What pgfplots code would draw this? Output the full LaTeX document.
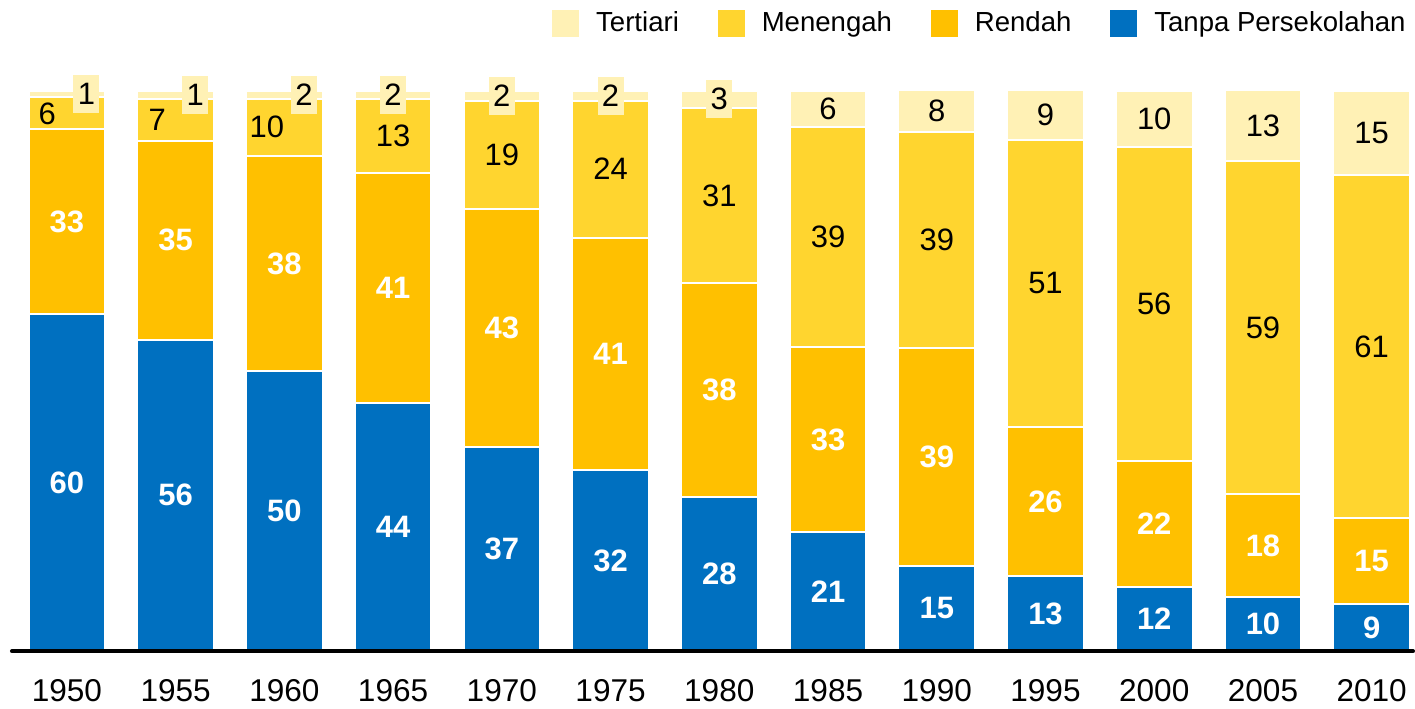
\documentclass[border=0pt]{standalone}
\usepackage{fontspec}
\setmainfont{Liberation Sans}
\usepackage{pgfplots}
\pgfplotsset{compat=1.18}

\definecolor{cBlue}{HTML}{0070C0}
\definecolor{cRendah}{HTML}{FFC000}
\definecolor{cMenengah}{HTML}{FFD52F}
\definecolor{cTertiari}{HTML}{FFF1B5}

\pgfplotsset{
  base/.style={
    scale only axis, width=701.5pt, height=296pt,
    xmin=-0.505, xmax=12.38, ymin=0, ymax=105.5,
  },
  lbl/.style={draw=none, mark=none, nodes near coords,
    point meta=explicit symbolic,
    every node near coord/.append style={anchor=center,
      font=\fontsize{15.5}{18}\selectfont, #1}},
}

\begin{document}
\begin{tikzpicture}
\begin{axis}[base, name=main,
  ybar stacked, bar width=0.705, axis on top,
  axis x line*=bottom, axis y line=none,
  x axis line style={-, line width=2pt, black, line cap=round},
  xtick={0,...,12}, ytick=\empty,
  xticklabels={1950,1955,1960,1965,1970,1975,1980,1985,1990,1995,2000,2005,2010},
  xticklabel style={font=\fontsize{15.8}{18}\selectfont, yshift=-10.5pt},
  major tick length=0pt,
  legend columns=4, reverse legend,
  legend style={at={(1,1)}, anchor=east, xshift=-1.5pt, yshift=18.25pt,
    draw=none, fill=none, inner sep=0pt,
    font=\fontsize{13.8}{16}\selectfont,
    /tikz/every odd column/.append style={column sep=6.5pt},
    /tikz/every even column/.append style={column sep=17.5pt}},
  legend image code/.code={\path[#1, draw=none] (0pt,-6.75pt) rectangle (13.5pt,6.75pt);},
]
\addplot[fill=cBlue, draw=white, line width=1pt] coordinates {
  (0,60.1) (1,55.6) (2,49.9) (3,44.2) (4,36.5) (5,32.3) (6,27.5)
  (7,21.2) (8,15.2) (9,13.4) (10,11.4) (11,9.6) (12,8.4)};
\addlegendentry{Tanpa Persekolahan}
\addplot[fill=cRendah, draw=white, line width=1pt] coordinates {
  (0,33.0) (1,35.5) (2,38.5) (3,41.2) (4,42.4) (5,41.5) (6,38.1)
  (7,33.0) (8,38.9) (9,26.6) (10,22.6) (11,18.4) (12,15.3)};
\addlegendentry{Rendah}
\addplot[fill=cMenengah, draw=white, line width=1pt] coordinates {
  (0,5.7) (1,7.5) (2,10.2) (3,13.2) (4,19.3) (5,24.4) (6,31.4)
  (7,39.4) (8,38.5) (9,51.2) (10,56.0) (11,59.4) (12,61.3)};
\addlegendentry{Menengah}
\addplot[fill=cTertiari, draw=white, line width=1pt] coordinates {
  (0,1.2) (1,1.4) (2,1.4) (3,1.4) (4,1.8) (5,1.8) (6,3.0)
  (7,6.4) (8,7.5) (9,8.9) (10,10.0) (11,12.7) (12,15.0)};
\addlegendentry{Tertiari}
\end{axis}

\begin{axis}[base, hide axis]
% Tanpa Persekolahan
\addplot[lbl={text=white, font=\fontsize{15.5}{18}\selectfont\bfseries}] coordinates {
  (0,30.05)[60] (1,27.8)[56] (2,24.95)[50] (3,22.1)[44] (4,18.25)[37]
  (5,16.15)[32] (6,13.75)[28] (7,10.6)[21] (8,7.6)[15] (9,6.7)[13]
  (10,5.7)[12] (11,4.8)[10] (12,4.2)[9]};
% Rendah
\addplot[lbl={text=white, font=\fontsize{15.5}{18}\selectfont\bfseries}] coordinates {
  (0,76.6)[33] (1,73.35)[35] (2,69.15)[38] (3,64.8)[41] (4,57.7)[43]
  (5,53.05)[41] (6,46.55)[38] (7,37.7)[33] (8,34.65)[39] (9,26.7)[26]
  (10,22.7)[22] (11,18.8)[18] (12,16.05)[15]};
% Menengah
\addplot[lbl={text=black}] coordinates {
  (-0.18,95.95)[6] (0.83,94.85)[7] (1.84,93.5)[10] (3,92.0)[13] (4,88.55)[19]
  (5,86.0)[24] (6,81.3)[31] (7,73.9)[39] (8,73.35)[39] (9,65.6)[51]
  (10,62.0)[56] (11,57.7)[59] (12,54.35)[61]};
% Tertiari, small values in a box
\addplot[lbl={text=black, fill=cTertiari, inner sep=0pt,
    minimum width=13pt, minimum height=19pt}] coordinates {
  (0.18,99.4)[1] (1.18,99.3)[1] (2.18,99.3)[2] (3,99.3)[2]
  (4,99.1)[2] (5,99.1)[2] (6,98.5)[3]};
% Tertiari
\addplot[lbl={text=black}] coordinates {
  (7,96.8)[6] (8,96.35)[8] (9,95.65)[9] (10,95.0)[10] (11,93.75)[13] (12,92.5)[15]};
\end{axis}

\path ([xshift=-6pt,yshift=-27pt]main.south west) rectangle ([yshift=30pt]main.north east);
\end{tikzpicture}
\end{document}
